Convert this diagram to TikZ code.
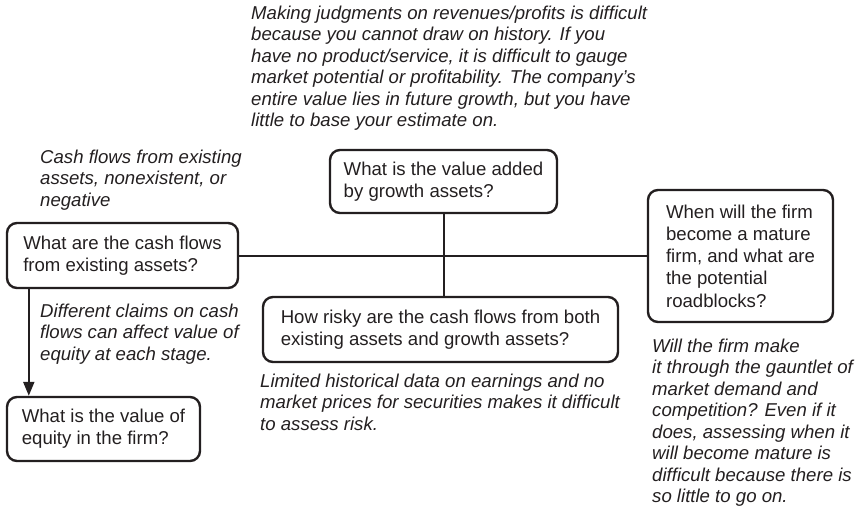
\documentclass[tikz,border=0pt]{standalone}
\usepackage{fontspec}
\setmainfont{Liberation Sans}
\usepackage{xcolor}
\usetikzlibrary{arrows.meta,calc}
\definecolor{ink}{HTML}{231F20}
\tikzset{
  qbox/.style={draw=ink, line width=2.4pt, rounded corners=10pt, align=left,
               inner sep=4pt, text=ink,
               font=\fontsize{18.6}{22.3}\selectfont},
  link/.style={draw=ink, line width=2pt},
  down/.style={link, -{Triangle[length=14pt, width=11pt]}},
  % side remarks in italics, placed by their top left corner
  remark/.style={anchor=north west, align=left, inner sep=0pt, text=ink,
                 font=\fontsize{18.6}{21.5}\selectfont\itshape},
}

\begin{document}
\begin{tikzpicture}[x=1pt, y=1pt]
\useasboundingbox (0,0) rectangle (855,-514);

%% ── questions ────────────────────────────────────────────────────────────
\node[qbox, minimum width=227, minimum height=63] (growth) at (443.5,-181.5)
  {What is the value added\\ by growth assets?};
\node[qbox, minimum width=231, minimum height=65] (cash) at (122.5,-255.5)
  {What are the cash flows\\ from existing assets?};
\node[qbox, minimum width=185, minimum height=132] (mature) at (740.5,-256)
  {When will the firm\\ become a mature\\ firm, and what are\\ the potential\\ roadblocks?};
\node[qbox, minimum width=355, minimum height=65] (risk) at (440.5,-329.5)
  {How risky are the cash flows from both\\ existing assets and growth assets?};
\node[qbox, minimum width=193, minimum height=64] (equity) at (103.5,-429)
  {What is the value of\\ equity in the firm?};

%% ── remarks ──────────────────────────────────────────────────────────────
\node[remark] (growthnote) at (251,-5.5)
  {Making judgments on revenues/profits is difficult\\
   because you cannot draw on history. If you\\
   have no product/service, it is difficult to gauge\\
   market potential or profitability. The company's\\
   entire value lies in future growth, but you have\\
   little to base your estimate on.};
\node[remark] (cashnote) at (40,-149.5)
  {Cash flows from existing\\ assets, nonexistent, or\\ negative};
\node[remark] (claimnote) at (40,-303.5)
  {Different claims on cash\\ flows can affect value of\\ equity at each stage.};
\node[remark] (risknote) at (260,-373.5)
  {Limited historical data on earnings and no\\
   market prices for securities makes it difficult\\
   to assess risk.};
\node[remark] (maturenote) at (652,-338.5)
  {Will the firm make\\ it through the gauntlet of\\ market demand and\\
   competition? Even if it\\ does, assessing when it\\ will become mature is\\
   difficult because there is\\ so little to go on.};

%% ── connectors ───────────────────────────────────────────────────────────
\draw[link] (cash.east) -- (cash.east -| mature.west);
\draw[link] (growth.south) -- (growth.south |- risk.north);
\coordinate (drop) at ([xshift=23pt]cash.south west);
\draw[down] (drop) -- (drop |- equity.north);

\end{tikzpicture}
\end{document}
